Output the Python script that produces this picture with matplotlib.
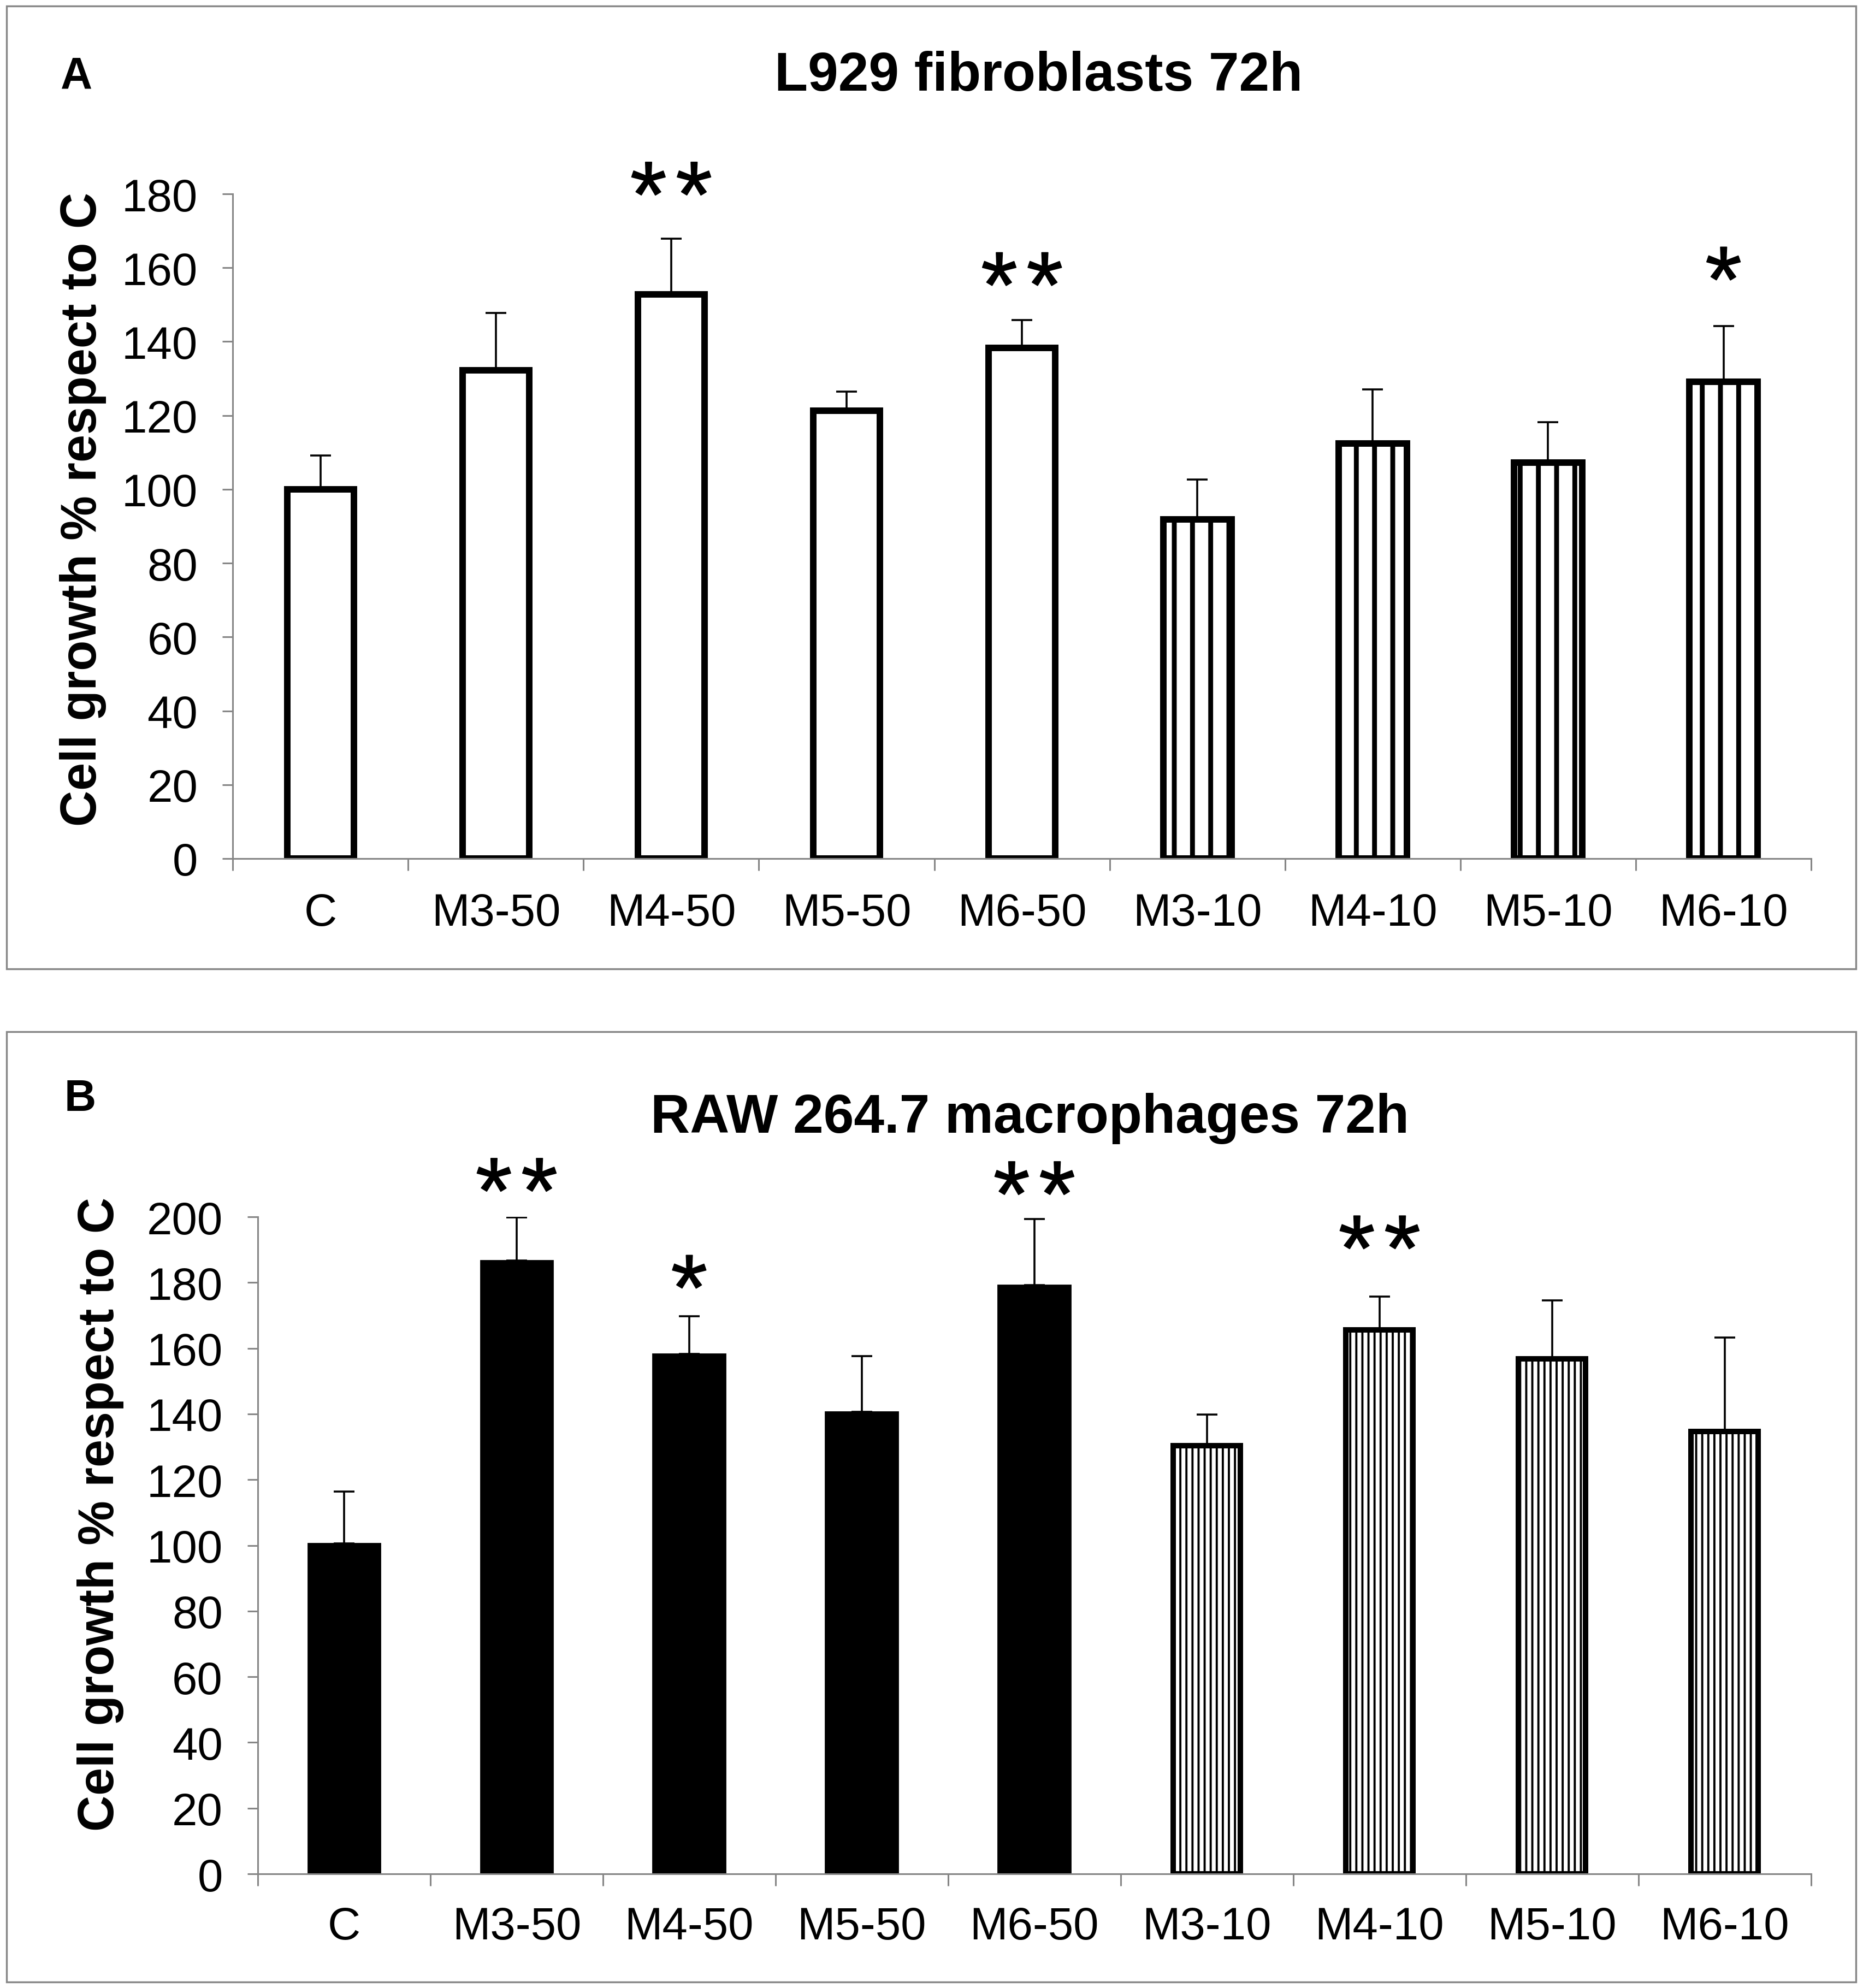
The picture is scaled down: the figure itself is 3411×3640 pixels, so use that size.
import matplotlib
matplotlib.use("Agg")
import matplotlib.pyplot as plt
import matplotlib.patheffects as pe
from matplotlib.patches import Rectangle
import numpy as np

plt.rcParams['font.family'] = ['Liberation Sans', 'DejaVu Sans']

groups = ["C", "M3-50", "M4-50", "M5-50", "M6-50", "M3-10", "M4-10", "M5-10", "M6-10"]

# panel A - L929 fibroblasts 72h
l929_mean = [100, 132.3, 152.8, 121.3, 138.3, 91.8, 112.4, 107.3, 129.1]
l929_err = [9.2, 15.5, 15.1, 5.1, 7.5, 10.9, 14.6, 10.9, 15.1]
l929_sig = ["", "", "**", "", "**", "", "", "", "*"]
l929_sig_y = [0, 0, 183, 0, 158.5, 0, 0, 0, 160]

# panel B - RAW 264.7 macrophages 72h
raw_mean = [100.6, 186.7, 158.2, 140.7, 179.3, 130.4, 165.6, 156.8, 134.6]
raw_err = [15.7, 13.1, 11.6, 16.9, 20.1, 9.5, 10.1, 17.7, 28.7]
raw_sig = ["", "**", "*", "", "**", "", "**", "", ""]
raw_sig_y = [0, 211.5, 182, 0, 210.5, 0, 194, 0, 0]

GRAY = '#868686'

fig = plt.figure(figsize=(17.06, 18.205), dpi=200)

# panel frames
for y0, h in [(0.5125, 0.4842), (0.0030, 0.4779)]:
    fig.add_artist(Rectangle((0.0035, y0), 0.9924, h, transform=fig.transFigure,
                             fill=False, edgecolor=GRAY, linewidth=1.2))


def draw_panel(ax, mean, err, sig, sig_y, ymax, solid_face, edge_lw, hatch, hatch_lw, label_xy, xpad):
    x = np.arange(len(groups))
    n50 = 5
    # 50 ug groups
    if solid_face:
        ax.bar(x[:n50], mean[:n50], 0.42, color='black', edgecolor='black', linewidth=1)
    else:
        ax.bar(x[:n50], mean[:n50], 0.38, color='white', edgecolor='black', linewidth=edge_lw)
    # 10 ug groups, striped
    plt.rcParams['hatch.linewidth'] = hatch_lw
    bars = ax.bar(x[n50:], mean[n50:], 0.39, color='white', edgecolor='black',
                  linewidth=edge_lw, hatch=hatch)
    for b in bars:
        if hasattr(b, 'set_hatch_linewidth'):
            b.set_hatch_linewidth(hatch_lw)

    ax.errorbar(x, mean, yerr=[np.zeros(len(err)), err], fmt='none', ecolor='black',
                elinewidth=1.3, capsize=7, capthick=1.3, zorder=3)

    # significance stars, centred on the read height
    for i, s in enumerate(sig):
        for k in range(len(s)):
            dx = (k - (len(s) - 1) / 2) * 30
            ax.annotate('*', xy=(i, sig_y[i]), xytext=(dx, -29),
                        textcoords='offset points', ha='center', va='baseline',
                        fontsize=62, annotation_clip=False,
                        path_effects=[pe.withStroke(linewidth=0.6, foreground='black')])

    ax.set_xlim(-0.5, len(groups) - 0.5)
    ax.set_ylim(0, ymax)
    ax.set_yticks(np.arange(0, ymax + 1, 20))
    ax.set_xticks(x)
    ax.set_xticklabels(groups)
    ax.set_xticks(np.arange(-0.5, len(groups)), minor=True)
    ax.tick_params(axis='x', which='major', length=0, pad=xpad, labelsize=30)
    ax.tick_params(axis='x', which='minor', length=8, width=1.1, color=GRAY, direction='out')
    ax.tick_params(axis='y', length=7, width=1.1, color=GRAY, pad=16, labelsize=30)
    for side in ['top', 'right']:
        ax.spines[side].set_visible(False)
    for side in ['left', 'bottom']:
        ax.spines[side].set_color(GRAY)
        ax.spines[side].set_linewidth(1.1)
    ax.set_ylabel("Cell growth % respect to C", fontsize=33, fontweight='bold')
    ax.yaxis.set_label_coords(*label_xy)


ax1 = fig.add_axes([0.1249, 0.5680, 0.8470, 0.3342])
draw_panel(ax1, l929_mean, l929_err, l929_sig, l929_sig_y, 180, False, 4.3, '|', 3.2,
           (-0.080, 0.526), 22)

ax2 = fig.add_axes([0.1383, 0.0574, 0.8335, 0.3304])
draw_panel(ax2, raw_mean, raw_err, raw_sig, raw_sig_y, 200, True, 3.6, '|||', 1.4,
           (-0.086, 0.548), 21)

fig.text(0.5574, 0.9615, "L929 fibroblasts 72h", fontsize=36, fontweight='bold', ha='center', va='center')
fig.text(0.5525, 0.4375, "RAW 264.7 macrophages 72h", fontsize=36, fontweight='bold', ha='center', va='center')
fig.text(0.0410, 0.9615, "A", fontsize=29, fontweight='bold', ha='center', va='center')
fig.text(0.0431, 0.4471, "B", fontsize=29, fontweight='bold', ha='center', va='center')

fig.savefig("out.png", dpi=200)
